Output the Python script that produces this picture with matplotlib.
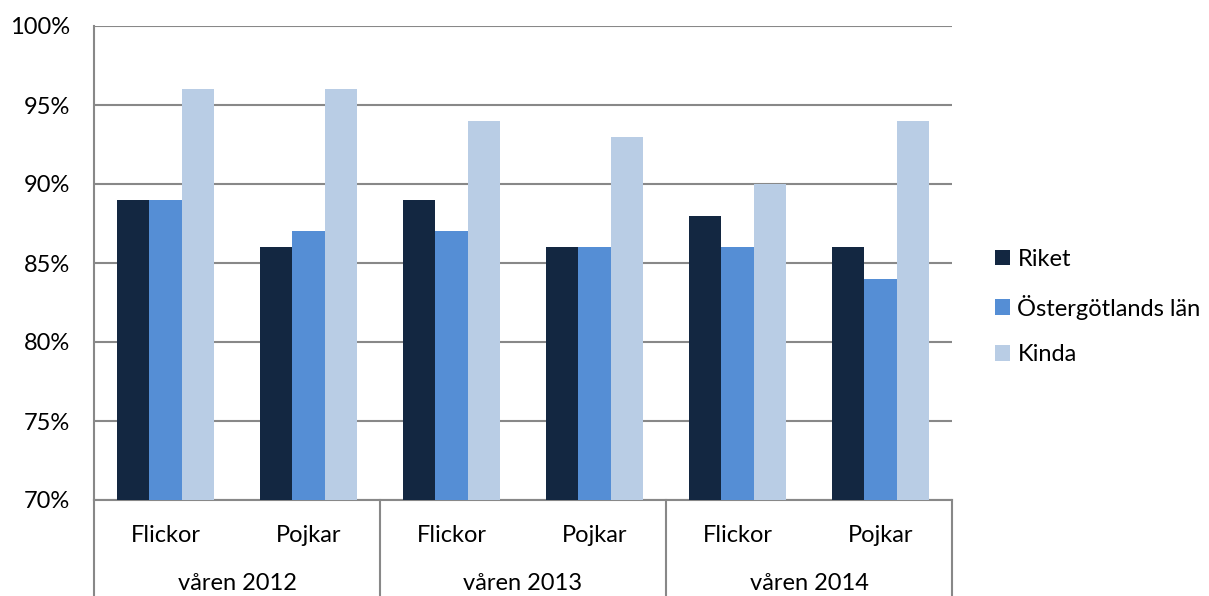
import matplotlib
matplotlib.use("Agg")
import matplotlib.pyplot as plt
import numpy as np
from matplotlib.transforms import blended_transform_factory

plt.rcParams['font.family'] = ['Lato', 'DejaVu Sans']

years = ["våren 2012", "våren 2013", "våren 2014"]
genders = ["Flickor", "Pojkar"]
series_names = ["Riket", "Östergötlands län", "Kinda"]
riket = [89, 86, 89, 86, 88, 86]
ostergotland = [89, 87, 87, 86, 86, 84]
kinda = [96, 96, 94, 93, 90, 94]
yticks = [70, 75, 80, 85, 90, 95, 100]
colors = ["#132741", "#558ED5", "#B9CDE5"]

FS = 17

fig = plt.figure(figsize=(12.09, 5.96), dpi=100)
ax = fig.add_axes([94/1209, 96/596, (952-94)/1209, 474/596])

x = np.arange(len(riket))
w = 0.224
for i, (vals, name, c) in enumerate(zip([riket, ostergotland, kinda], series_names, colors)):
    ax.bar(x + (i - 1) * w, vals, width=w, color=c, label=name, zorder=3)

ax.set_ylim(70, 100)
ax.set_xlim(-0.5, len(riket) - 0.5)
ax.set_yticks(yticks)
ax.set_yticklabels([f"{t}%" for t in yticks], fontsize=FS)
ax.yaxis.grid(True, color="#888888", linewidth=1.5, zorder=0)
ax.set_axisbelow(True)
ax.tick_params(axis='y', length=0, pad=17)
ax.tick_params(axis='x', length=0, labelbottom=False)
for s in ["top", "right"]:
    ax.spines[s].set_visible(False)
ax.spines["left"].set_color("#888888")
ax.spines["bottom"].set_color("#888888")
ax.spines["left"].set_linewidth(1.5)
ax.spines["bottom"].set_linewidth(1.5)

tr = blended_transform_factory(ax.transData, ax.transAxes)
for j, xv in enumerate(x):
    ax.text(xv, -0.074, genders[j % 2], transform=tr, ha="center", va="center", fontsize=FS)
for k, yr in enumerate(years):
    ax.text(2 * k + 0.5, -0.176, yr, transform=tr, ha="center", va="center", fontsize=FS)
for b in [-0.5, 1.5, 3.5, 5.5]:
    ax.plot([b, b], [0, -0.23], transform=tr, color="#888888", linewidth=1.5, clip_on=False)

leg = fig.legend(loc="center left", bbox_to_anchor=(974/1209, 1 - 307/596), frameon=False,
                 fontsize=FS, handlelength=0.64, handleheight=0.64, handletextpad=0.3,
                 labelspacing=1.05)

fig.savefig("out.png", dpi=100)
